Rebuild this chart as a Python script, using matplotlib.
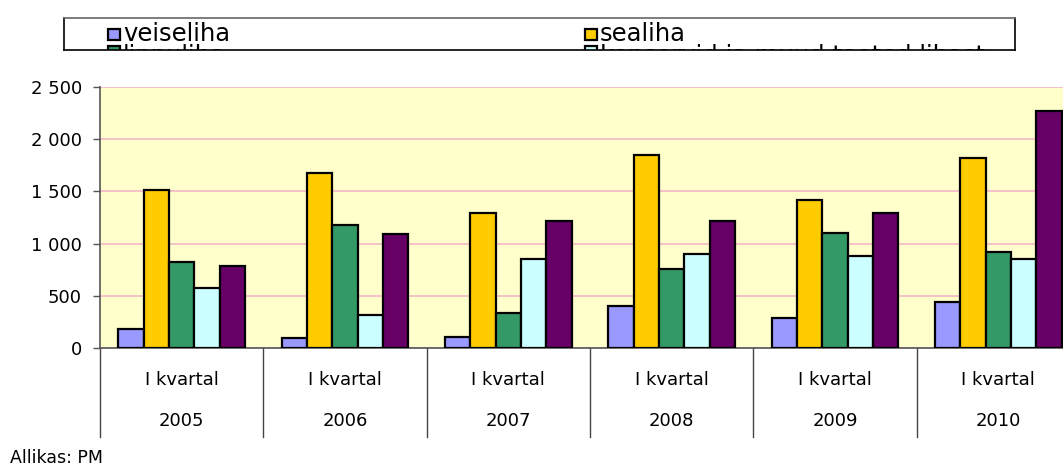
import matplotlib
matplotlib.use('Agg')
import matplotlib.pyplot as plt
from matplotlib.patches import Rectangle
import matplotlib.transforms as mtransforms
import numpy as np

years = ['2005', '2006', '2007', '2008', '2009', '2010']
quarter = 'I kvartal'
veiseliha = [178, 98, 105, 401, 284, 443]
sealiha = [1517, 1676, 1294, 1852, 1421, 1816]
linnuliha = [825, 1182, 332, 752, 1099, 918]
konservid = [571, 315, 854, 902, 883, 854]
muu = [784, 1096, 1221, 1221, 1291, 2272]
series = [veiseliha, sealiha, linnuliha, konservid, muu]
series_labels = ['veiseliha', 'sealiha', 'linnuliha',
                 'konservid ja muud tooted lihast', 'muu']
colors = ['#9999FF', '#FFCC00', '#339966', '#CCFFFF', '#660066']
yticks = [0, 500, 1000, 1500, 2000, 2500]
ytick_labels = ['0', '500', '1 000', '1 500', '2 000', '2 500']
source = 'Allikas: PM'

W, H = 1063, 470
fig = plt.figure(figsize=(W / 100, H / 100), dpi=100)
fig.patch.set_facecolor('white')

ax = fig.add_axes([100 / W, (H - 348) / H, 980 / W, 261 / H])
ax.set_facecolor('#FFFFCC')
ax.set_xlim(0, 6)
ax.set_ylim(0, 2500)

bw = 0.155
x = np.arange(len(years)) + 0.5
for k, vals in enumerate(series):
    ax.bar(x + (k - 2) * bw, vals, bw, color=colors[k], edgecolor='black',
           linewidth=1.6, zorder=3)

ax.set_axisbelow(True)
ax.yaxis.grid(True, color='#F2B8C6', linewidth=1.2, zorder=0)
for s in ['top', 'right']:
    ax.spines[s].set_visible(False)
for s in ['left', 'bottom']:
    ax.spines[s].set_color('#555555')
    ax.spines[s].set_linewidth(1.2)

ax.set_yticks(yticks, ytick_labels, fontsize=13)
ax.tick_params(axis='y', length=5, width=1, color='#555555', pad=8)
ax.set_xticks([])

tr = mtransforms.blended_transform_factory(ax.transData, ax.transAxes)
for i in range(len(years) + 1):
    ax.plot([i, i], [0, -0.341], transform=tr, color='#444444', lw=1,
            clip_on=False)
for i, yr in enumerate(years):
    ax.text(i + 0.5, -0.1226, quarter, transform=tr, ha='center', va='center',
            fontsize=13)
    ax.text(i + 0.5, -0.2797, yr, transform=tr, ha='center', va='center',
            fontsize=13)

fig.text(10 / W, 1 - 458 / H, source, ha='left', va='center', fontsize=12.5)

# legend box, clipped at its lower edge as in the original
top, bot = 18, 50
lax = fig.add_axes([64 / W, (H - bot) / H, (1015 - 64) / W, (bot - top) / H])
lax.set_xlim(64, 1015)
lax.set_ylim(bot, top)
lax.set_xticks([])
lax.set_yticks([])
for s in lax.spines.values():
    s.set_color('black')
    s.set_linewidth(1.2)
lax.spines['top'].set_color('#666666')
entries = [(0, 108, 29, 41), (1, 585, 29, 41), (2, 108, 46, 63), (3, 585, 46, 63)]
for idx, mx, my, base in entries:
    lax.add_patch(Rectangle((mx, my), 12, 11, facecolor=colors[idx],
                            edgecolor='black', linewidth=1.6, clip_on=True))
    lax.text(mx + 15, base, series_labels[idx], ha='left', va='baseline',
             fontsize=17.5, clip_on=True)

fig.savefig('out.png', dpi=100)
